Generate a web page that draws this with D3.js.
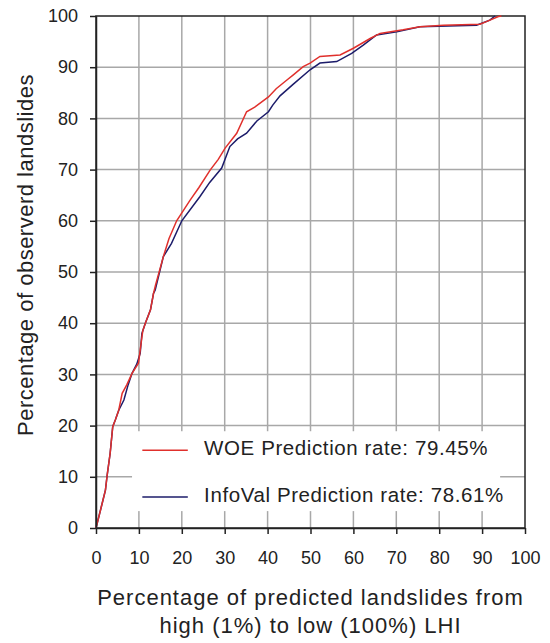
<!DOCTYPE html>
<html>
<head>
<meta charset="utf-8">
<script src="https://cdnjs.cloudflare.com/ajax/libs/d3/7.8.5/d3.min.js"></script>
<style>
    body { margin: 0; background: #fff; }
    svg text { font-family: Arial, 'Liberation Sans', sans-serif; fill: #222; }
</style>
</head>
<body>
<div id="chart"></div>
<script>
// percentage of predicted landslides (x) vs percentage of observed landslides (y)
let woeX = [0, 1.2, 2.2, 2.6, 3.3, 3.9, 4.5, 5.3, 6.1, 7.2, 8.4, 9.9, 10.5, 10.9, 11.5, 12.7, 13.4, 13.9, 15.7, 17, 18.8, 21.9, 24, 26.6, 28.5, 30.1, 32.8, 35.1, 37, 40.2, 42, 44.5, 46, 48.3, 49.9, 52.2, 56.9, 60, 63.9, 66.2, 71.6, 75.5, 81, 89.5, 91, 93.8, 94.5];
let woeY = [0, 4, 7.4, 10.3, 14.6, 19.8, 21.1, 23, 26.3, 28, 30.2, 32.2, 36, 38.5, 40, 42.6, 45.8, 47.5, 53, 56.5, 60, 64, 66.5, 69.9, 72, 74.2, 77.1, 81.3, 82.2, 84.2, 85.8, 87.5, 88.5, 90.1, 90.8, 92.1, 92.4, 93.7, 95.6, 96.6, 97.3, 97.9, 98.2, 98.4, 98.9, 99.9, 100];

let infoX = [0, 1.2, 2.2, 2.6, 3.3, 3.9, 4.5, 5.3, 6.5, 7.5, 8.4, 9.5, 10.3, 10.7, 11.5, 12.7, 13.4, 13.8, 15.7, 17.6, 20, 24.2, 26.5, 29.3, 31.2, 33, 35.1, 37.5, 40.2, 41.2, 42.9, 46, 49.9, 52.2, 56.1, 59.6, 62.3, 65.4, 70.1, 75.5, 88.7, 91.8, 93];
let infoY = [0, 4, 7.4, 10.3, 14.6, 19.8, 21.1, 23, 25, 28, 30.2, 32, 34.1, 38, 40, 42.6, 45.8, 46.5, 53, 55.6, 60, 64.7, 67.5, 70.3, 74.5, 76, 77.1, 79.5, 81.3, 82.6, 84.4, 86.7, 89.5, 90.8, 91.1, 92.7, 94.3, 96.3, 96.9, 97.9, 98.2, 99.2, 100];

let tickValues = [0, 10, 20, 30, 40, 50, 60, 70, 80, 90, 100];
let legendLabels = ['WOE Prediction rate: 79.45%', 'InfoVal Prediction rate: 78.61%'];
let seriesColors = ['#e0302c', '#1c1c6a'];

let margin = {
    top: 16,
    right: 25,
    bottom: 115,
    left: 96
}

let width = 550 - margin.left - margin.right;
let height = 643 - margin.top - margin.bottom;

let xScale = d3.scaleLinear()
    .domain([0, 100])
    .range([0, width])

let yScale = d3.scaleLinear()
    .domain([0, 100])
    .range([height, 0])

let svg = d3.select('#chart').append('svg')
    .attr('width', width + margin.left + margin.right)
    .attr('height', height + margin.top + margin.bottom)

let g = svg.append('g')
    .attr('transform', 'translate(' + margin.left + ', ' + margin.top + ')')

// grid
g.append('g').selectAll('line').data(tickValues.slice(1, -1))
    .enter().append('line')
    .attr('x1', function (d) { return xScale(d); })
    .attr('x2', function (d) { return xScale(d); })
    .attr('y1', 0)
    .attr('y2', height)
    .style('stroke', '#a8a8a8')
    .style('stroke-width', 1.5)

g.append('g').selectAll('line').data(tickValues.slice(1, -1))
    .enter().append('line')
    .attr('x1', 0)
    .attr('x2', width)
    .attr('y1', function (d) { return yScale(d); })
    .attr('y2', function (d) { return yScale(d); })
    .style('stroke', '#a8a8a8')
    .style('stroke-width', 1.5)

// legend box hides the grid behind it
let legend = g.append('g')
legend.append('rect')
    .attr('x', xScale(8.4))
    .attr('y', yScale(18.9))
    .attr('width', xScale(94.2) - xScale(8.4))
    .attr('height', yScale(3.3) - yScale(18.9))
    .style('fill', '#fff')

legendLabels.forEach(function (label, i) {
    let ly = yScale(15.2) + i * 46.7;
    legend.append('line')
        .attr('x1', xScale(10.8))
        .attr('x2', xScale(21.4))
        .attr('y1', ly)
        .attr('y2', ly)
        .style('stroke', seriesColors[i])
        .style('stroke-width', 1.5)
    legend.append('text')
        .attr('x', xScale(25.2))
        .attr('y', ly + 5)
        .style('font-size', '20.5px')
        .style('letter-spacing', '0.6px')
        .text(label)
})

// frame
g.append('rect')
    .attr('width', width)
    .attr('height', height)
    .style('fill', 'none')
    .style('stroke', '#222')
    .style('stroke-width', 1.5)

let line = d3.line()
    .x(function (d) { return xScale(d[0]); })
    .y(function (d) { return yScale(d[1]); })

g.append('path')
    .datum(d3.zip(infoX, infoY))
    .attr('d', line)
    .style('fill', 'none')
    .style('stroke', seriesColors[1])
    .style('stroke-width', 1.5)

g.append('path')
    .datum(d3.zip(woeX, woeY))
    .attr('d', line)
    .style('fill', 'none')
    .style('stroke', seriesColors[0])
    .style('stroke-width', 1.5)

// axes
let xAxis = g.append('g')
    .attr('transform', 'translate(0, ' + height + ')')
    .call(d3.axisBottom(xScale).tickValues(tickValues).tickSizeInner(6).tickSizeOuter(0).tickPadding(17))
let yAxis = g.append('g')
    .call(d3.axisLeft(yScale).tickValues(tickValues).tickSizeInner(6).tickSizeOuter(0).tickPadding(12))

xAxis.selectAll('path, line').style('stroke', '#222').style('stroke-width', 1.5)
yAxis.selectAll('path, line').style('stroke', '#222').style('stroke-width', 1.5)
xAxis.selectAll('text').style('font-size', '18px').style('fill', '#222').style('font-family', "Arial, 'Liberation Sans', sans-serif")
yAxis.selectAll('text').style('font-size', '18px').style('fill', '#222').style('font-family', "Arial, 'Liberation Sans', sans-serif")

// titles
let xTitle = svg.append('text')
    .attr('text-anchor', 'middle')
    .style('font-size', '22px')
    .style('letter-spacing', '1px')
xTitle.append('tspan')
    .attr('x', margin.left + width / 2)
    .attr('y', 605)
    .text('Percentage of predicted landslides from')
xTitle.append('tspan')
    .attr('x', margin.left + width / 2)
    .attr('y', 633)
    .text('high (1%) to low (100%) LHI')

svg.append('text')
    .attr('text-anchor', 'middle')
    .attr('transform', 'translate(33, 255) rotate(-90)')
    .style('font-size', '22px')
    .style('letter-spacing', '0.5px')
    .text('Percentage of observerd landslides')
</script>
</body>
</html>
